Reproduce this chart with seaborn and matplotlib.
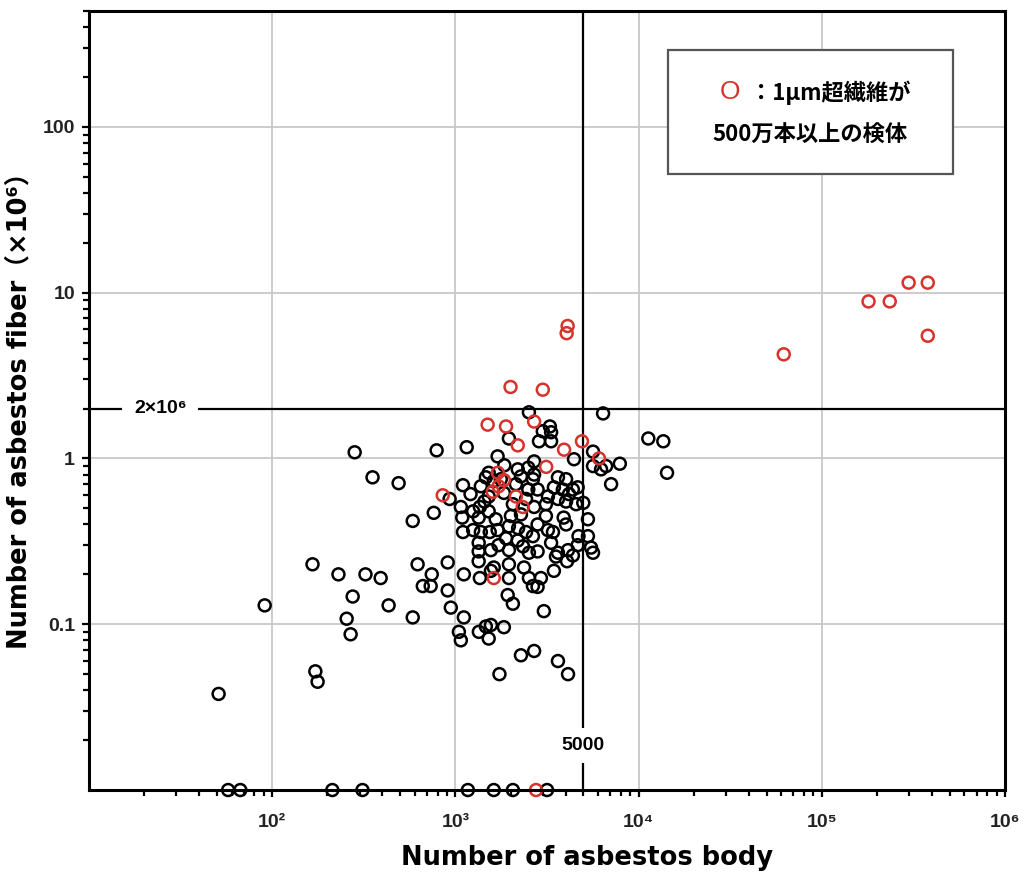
import matplotlib
matplotlib.use("Agg")
import matplotlib.pyplot as plt
import matplotlib.patches as mpatches
from matplotlib.ticker import FixedLocator, FixedFormatter, LogLocator, NullFormatter
import numpy as np
import pandas as pd
import seaborn as sns

# ── data ──────────────────────────────────────────────────────────────
# asbestos bodies (x) vs asbestos fibres in units of 10^6 (y); y = 0 means none found
black_x = [51, 91, 166, 172, 177, 230, 323, 275, 255, 268, 282, 353, 391, 432, 490,
           585, 585, 622, 743, 664, 733, 908, 908, 762, 930, 790, 1153, 944, 1112, 1045,
           1071, 1343, 1467, 1563, 1520, 1840, 2280, 2690, 3630, 4120, 1740, 1930, 2060,
           3040, 1112, 1340, 1360, 1563, 1620, 1960, 1960, 2370, 2520, 2650, 2810, 2930,
           3450, 4070, 3540, 2520, 6400, 1960, 3280, 3000, 3330, 2860, 3330, 4440, 5640,
           5640, 6240, 6650, 7080, 7900, 11300, 13650, 14300, 1700, 1850, 2190, 2500, 2690,
           1520, 1467, 1377, 1620, 1520, 1100, 1071, 1090, 1100, 1250, 1360, 1340, 1440,
           1520, 1250, 1377, 1540, 1340, 1340, 1563, 1700, 1960, 1890, 1960, 2280, 2690,
           2500, 2810, 2430, 2690, 2010, 2200, 2430, 2650, 2340, 2810, 2520, 2810, 2060,
           1840, 3630, 4020, 3450, 3860, 4380, 4650, 4170, 3630, 3200, 4020, 4560, 4990,
           5290, 3120, 3900, 4020, 3200, 3410, 4700, 5290, 3330, 4650, 5500, 4120, 3630,
           5640, 4380, 2650, 2140, 1770, 1210, 3120, 2280, 1660, 2190, 1720,
           57.5, 67, 213, 311, 1170, 1620, 2060, 3165]
black_y = [0.038, 0.13, 0.23, 0.052, 0.045, 0.20, 0.20, 0.147, 0.108, 0.087, 1.09, 0.77,
           0.19, 0.13, 0.71, 0.42, 0.11, 0.23, 0.20, 0.17, 0.17, 0.236, 0.16, 0.47, 0.57,
           1.12, 1.17, 0.126, 0.11, 0.09, 0.08, 0.09, 0.097, 0.099, 0.082, 0.096, 0.065,
           0.069, 0.06, 0.05, 0.05, 0.15, 0.133, 0.12, 0.20, 0.24, 0.19, 0.21, 0.22, 0.23,
           0.19, 0.22, 0.19, 0.17, 0.168, 0.19, 0.21, 0.24, 0.256, 1.9, 1.87, 1.32, 1.56,
           1.46, 1.44, 1.27, 1.27, 0.99, 1.1, 0.9, 0.86, 0.9, 0.70, 0.93, 1.32, 1.27, 0.82,
           1.03, 0.91, 0.86, 0.88, 0.96, 0.82, 0.77, 0.68, 0.73, 0.59, 0.69, 0.51, 0.44,
           0.36, 0.48, 0.51, 0.44, 0.55, 0.48, 0.37, 0.36, 0.36, 0.31, 0.275, 0.28, 0.37,
           0.39, 0.33, 0.28, 0.78, 0.80, 0.65, 0.65, 0.57, 0.51, 0.45, 0.38, 0.36, 0.34,
           0.295, 0.275, 0.27, 0.40, 0.53, 0.62, 0.77, 0.75, 0.67, 0.65, 0.65, 0.67, 0.61,
           0.57, 0.59, 0.55, 0.53, 0.54, 0.43, 0.45, 0.44, 0.40, 0.37, 0.36, 0.34, 0.34,
           0.31, 0.30, 0.29, 0.28, 0.27, 0.27, 0.26, 0.75, 0.70, 0.75, 0.61, 0.53, 0.46,
           0.43, 0.32, 0.30,
           0, 0, 0, 0, 0, 0, 0, 0]

# samples with >= 5 million fibres longer than 1 um
red_x = [4100, 4050, 2000, 3000, 1500, 1890, 2690, 2190, 4910, 3920, 6080, 3130, 1705,
         1840, 1600, 1720, 2140, 2330, 853, 1620, 2755,
         62000, 180000, 235000, 298000, 379000, 379000]
red_y = [6.3, 5.7, 2.7, 2.6, 1.6, 1.56, 1.67, 1.2, 1.27, 1.13, 1.0, 0.89, 0.82,
         0.74, 0.63, 0.68, 0.59, 0.51, 0.6, 0.19, 0,
         4.25, 8.86, 8.86, 11.5, 11.5, 5.5]

x_ticks = [1e2, 1e3, 1e4, 1e5, 1e6]
x_ticklabels = ["10²", "10³", "10⁴", "10⁵", "10⁶"]
y_ticks = [0.1, 1, 10, 100]
y_ticklabels = ["0.1", "1", "10", "100"]

X_LIM = (10, 1e6)
Y_LIM = (0.01, 500)
BODY_CUT = 5000     # vertical reference line
FIBER_CUT = 2       # horizontal reference line (2x10^6)

_RED = "#d8322c"
_GRID = "#c8c8c8"

sns.set_style("ticks")
plt.rcParams["font.family"] = ["Liberation Sans Narrow", "Liberation Sans", "DejaVu Sans"]
_JP = ["Noto Sans CJK JP", "DejaVu Sans"]
_LABEL = ["DejaVu Sans", "Noto Sans CJK JP"]

df = pd.concat([
    pd.DataFrame({"body": black_x, "fiber": black_y, "group": "other"}),
    pd.DataFrame({"body": red_x, "fiber": red_y, "group": "over5M"}),
], ignore_index=True)
# zero counts sit on the bottom axis of the log plot
df["fiber_plot"] = df["fiber"].where(df["fiber"] > 0, Y_LIM[0])

fig = plt.figure(figsize=(10.3, 8.72), dpi=100)
ax = fig.add_axes([0.0864, 0.094, 0.8893, 0.8933])
ax.set_xscale("log")
ax.set_yscale("log")

for grp, col in [("other", "black"), ("over5M", _RED)]:
    sub = df[df["group"] == grp]
    sns.scatterplot(data=sub, x="body", y="fiber_plot", ax=ax, color=col,
                    facecolors="none", edgecolor=col, linewidth=1.8, s=74,
                    clip_on=False, zorder=4, legend=False)

ax.set_xlim(*X_LIM)
ax.set_ylim(*Y_LIM)

# grid on decades only
for v in x_ticks[:-1]:
    ax.axvline(v, color=_GRID, lw=1.3, zorder=0)
for v in y_ticks:
    ax.axhline(v, color=_GRID, lw=1.3, zorder=0)

# reference lines
ax.axvline(BODY_CUT, color="black", lw=1.6, zorder=2)
ax.axhline(FIBER_CUT, color="black", lw=1.6, zorder=2)
ax.text(BODY_CUT, 0.0185, "5000", ha="center", va="center", fontsize=14,
        fontweight="bold", color="black", zorder=3,
        bbox=dict(boxstyle="square,pad=0.45", fc="white", ec="none"))
ax.text(0.078, FIBER_CUT, "2×10⁶", transform=ax.get_yaxis_transform(),
        ha="center", va="center", fontsize=14, fontweight="bold", color="black",
        zorder=3, bbox=dict(boxstyle="square,pad=0.6", fc="white", ec="none"))

# ticks
ax.xaxis.set_major_locator(FixedLocator(x_ticks))
ax.xaxis.set_major_formatter(FixedFormatter(x_ticklabels))
ax.xaxis.set_minor_locator(LogLocator(base=10, subs=np.arange(2, 10), numticks=20))
ax.xaxis.set_minor_formatter(NullFormatter())
ax.yaxis.set_major_locator(FixedLocator(y_ticks))
ax.yaxis.set_major_formatter(FixedFormatter(y_ticklabels))
ax.yaxis.set_minor_locator(LogLocator(base=10, subs=np.arange(2, 10), numticks=20))
ax.yaxis.set_minor_formatter(NullFormatter())
ax.tick_params(which="both", direction="out", color="black", width=1.6)
ax.tick_params(which="major", length=5, labelsize=14)
ax.tick_params(which="minor", length=4)
ax.tick_params(axis="x", which="major", pad=12)
ax.tick_params(axis="y", which="major", pad=5)
for lab in ax.get_xticklabels() + ax.get_yticklabels():
    lab.set_fontweight("bold")
    lab.set_color("#222222")

for side in ["left", "bottom", "top", "right"]:
    ax.spines[side].set_visible(True)
    ax.spines[side].set_color("black")
    ax.spines[side].set_linewidth(2.2)
    ax.spines[side].set_zorder(5)

ax.set_xlabel("Number of asbestos body", fontsize=18.5, fontweight="bold",
              family=_LABEL, color="black")
ax.xaxis.set_label_coords(0.544, -0.071)
ax.set_ylabel("Number of asbestos fiber（×10⁶）", fontsize=18.5, fontweight="bold",
              family=_LABEL, color="black")
ax.yaxis.set_label_coords(-0.062, 0.495)

# legend box
ax.add_patch(mpatches.Rectangle((0.632, 0.791), 0.311, 0.159, transform=ax.transAxes,
                                fc="white", ec="#555555", lw=1.6, zorder=6))
ax.text(0.700, 0.896, "O", transform=ax.transAxes, ha="center", va="center",
        color=_RED, fontsize=19, family=["Liberation Sans"], zorder=7)
ax.text(0.722, 0.895, "：1μm超繊維が", transform=ax.transAxes, ha="left",
        va="center", fontsize=16, fontweight="bold", family=_JP, color="black", zorder=7)
ax.text(0.787, 0.841, "500万本以上の検体", transform=ax.transAxes, ha="center",
        va="center", fontsize=16, fontweight="bold", family=_JP, color="black", zorder=7)

fig.savefig("out.png", dpi=100, facecolor="white")
